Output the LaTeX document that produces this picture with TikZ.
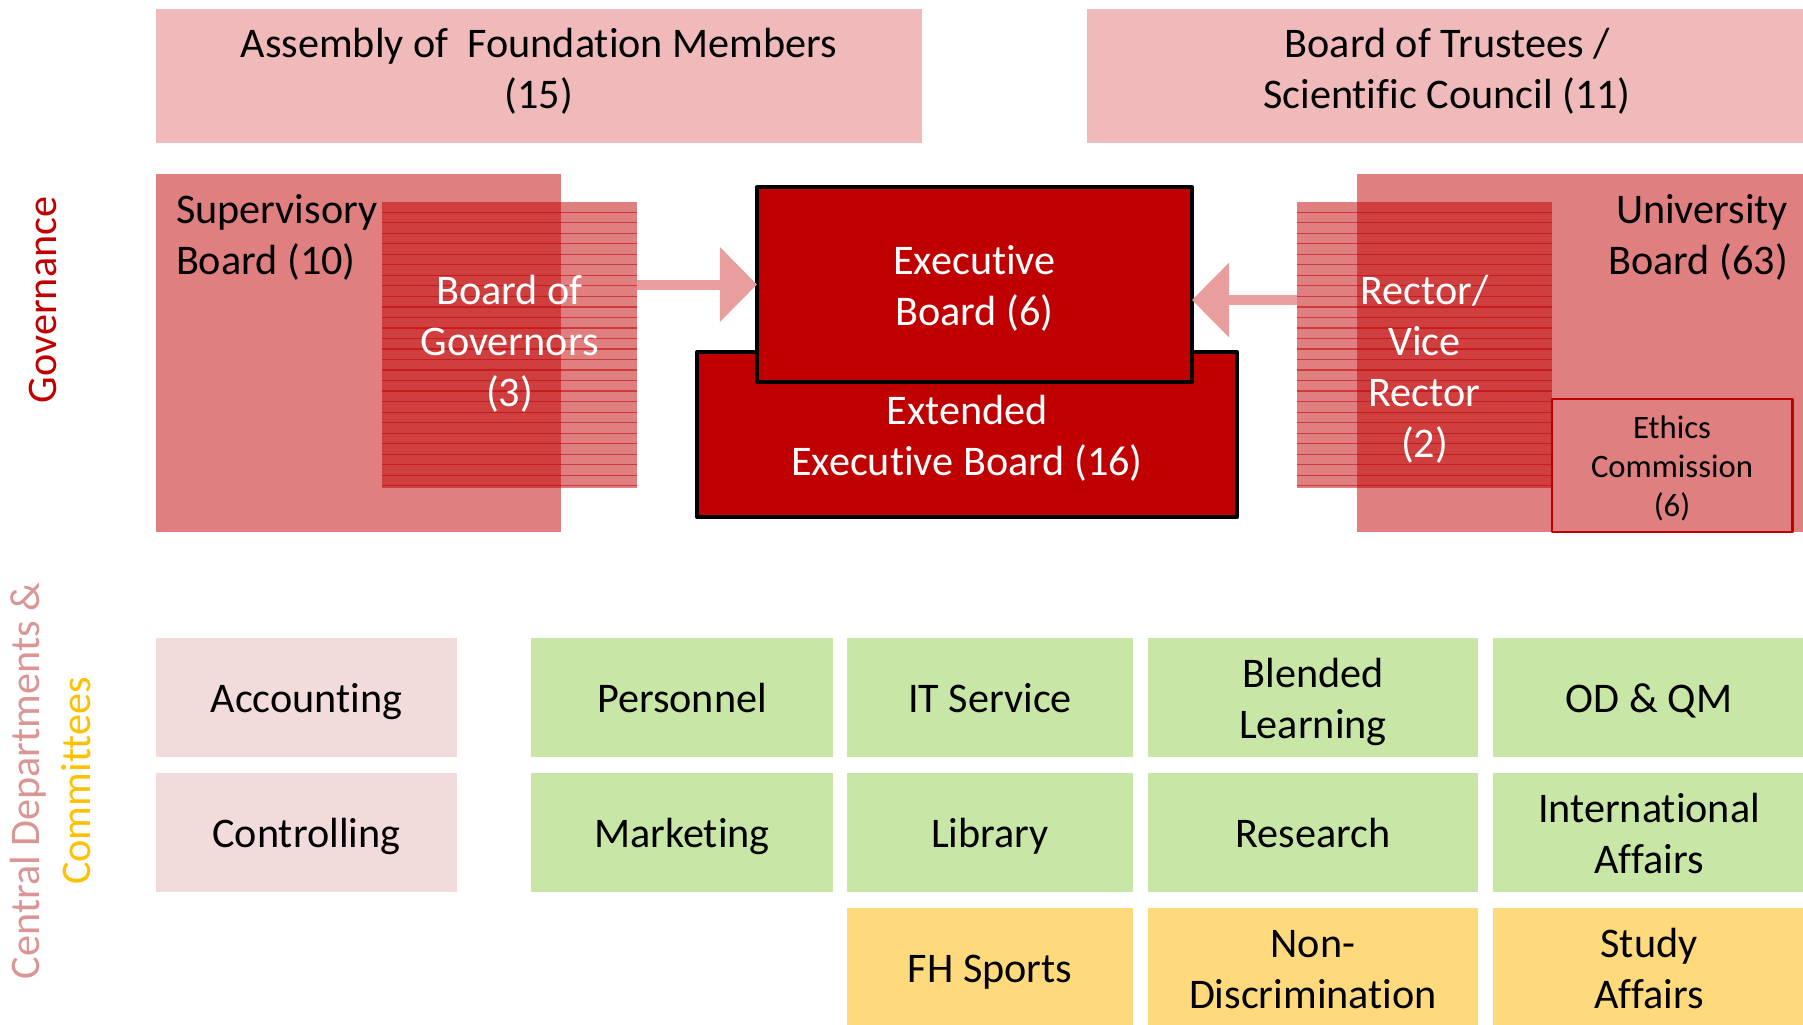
\documentclass[tikz,border=0pt]{standalone}
\usepackage{fontspec}
\setmainfont{Carlito}[Ligatures=NoCommon]
\usetikzlibrary{arrows.meta}
\definecolor{govred}{RGB}{192,0,0}
\definecolor{toppink}{RGB}{241,186,186}
\definecolor{arrowpink}{RGB}{233,158,158}
\definecolor{accpink}{RGB}{242,220,219}
\definecolor{deptgreen}{RGB}{200,230,165}
\definecolor{deptyellow}{RGB}{255,218,125}
\definecolor{centralpink}{RGB}{217,150,148}
\definecolor{commgold}{RGB}{255,192,0}
\newcommand\pptstrut{\vrule width0pt height0.97em depth0.25em}
\begin{document}
\begin{tikzpicture}[x=0.01cm, y=-0.01cm, font=\fontsize{12}{14.5}\selectfont, line join=round,
	box/.style={inner sep=0pt, outer sep=0pt, align=center, execute at begin node=\pptstrut, execute at end node=\pptstrut},
	topbox/.style={box, fill=toppink, minimum height=1.34cm},
	boardbox/.style={box, fill=govred, fill opacity=0.5, text opacity=1, minimum height=3.58cm},
	linedbox/.style={box, fill=govred, fill opacity=0.5, text opacity=1, text=white, minimum width=2.55cm, minimum height=2.86cm,
		path picture={\foreach \k in {1,...,27} \draw[govred, line width=0.3pt, draw opacity=0.55] ([yshift={-\k*0.105cm}]path picture bounding box.north west) -- ([yshift={-\k*0.105cm}]path picture bounding box.north east);}},
	execbox/.style={box, fill=govred, draw=black, line width=1pt, text=white},
	dept/.style={box, minimum height=1.19cm},
	arrowlink/.style={draw=arrowpink, line width=0.1cm, -{Triangle[width=0.75cm, length=0.37cm, line width=0pt]}}]
	\useasboundingbox (0,0) rectangle (1803,1024);
	\clip (0,0) rectangle (1803,1024);
	\node[topbox, minimum width=7.66cm] (assembly) at (539,76) {};
	\node[box] (assemblytext) at (539,68) {\pptstrut Assembly of~ Foundation Members\\(15)};
	\node[topbox, minimum width=7.20cm] (trustees) at (1447,76) {};
	\node[box] (trusteestext) at (1447,68) {\pptstrut Board of Trustees /\\Scientific Council (11)};
	\node[rotate=90, text=govred] (govlabel) at (43,300) {Governance};
	\node[rotate=90, align=center] (centrallabel) at (51,781) {\textcolor{centralpink}{Central Departments \&}\\\textcolor{commgold}{Committees}};
	\node[boardbox, minimum width=4.05cm] (superv) at (358.5,353) {};
	\node[box, anchor=west, align=left] (supervtext) at (176,234) {\pptstrut Supervisory\\Board (10)};
	\node[linedbox] (gov) at (509.5,345) {};
	\node[box, text=white] (govtext) at (509.5,340) {\pptstrut Board of\\Governors\\(3)};
	\node[boardbox, minimum width=4.53cm] (univ) at (1583.5,353) {};
	\node[box, anchor=east, align=right] (univtext) at (1788,234) {\pptstrut University\\Board (63)};
	\node[linedbox] (rector) at (1424.5,345) {};
	\node[box, text=white] (rectortext) at (1424.5,365.5) {\pptstrut Rector/\\Vice\\Rector\\(2)};
	\node[box, draw=govred, line width=0.8pt, minimum width=2.4cm, minimum height=1.33cm, font=\fontsize{9.3}{11.1}\selectfont] (ethics) at (1672,465.5) {\pptstrut Ethics\\Commission\\(6)};
	\node[execbox, minimum width=5.40cm, minimum height=1.65cm] (extexec) at (967,434.5) {\pptstrut Extended\\Executive Board (16)};
	\node[execbox, minimum width=4.35cm, minimum height=1.95cm] (exec) at (974.5,284.5) {\pptstrut Executive\\Board (6)};
	\coordinate (rarr) at (0,300);
	\draw[arrowlink] (gov.east |- exec.west) -- (exec.west);
	\draw[arrowlink] (rector.west |- rarr) -- (exec.east |- rarr);
	\node[dept, fill=accpink, minimum width=3.01cm] (acc) at (306.5,697.5) {Accounting};
	\node[dept, fill=accpink, minimum width=3.01cm] (ctrl) at (306.5,832.5) {Controlling};
	\node[dept, fill=deptgreen, minimum width=3.02cm] (pers) at (682,697.5) {Personnel};
	\node[dept, fill=deptgreen, minimum width=3.02cm] (mkt) at (682,832.5) {Marketing};
	\node[dept, fill=deptgreen, minimum width=2.86cm] (it) at (990,697.5) {IT Service};
	\node[dept, fill=deptgreen, minimum width=2.86cm] (lib) at (990,832.5) {Library};
	\node[dept, fill=deptyellow, minimum width=2.86cm] (sports) at (990,967.5) {FH Sports};
	\node[dept, fill=deptgreen, minimum width=3.30cm] (blend) at (1313,697.5) {\pptstrut Blended\\Learning};
	\node[dept, fill=deptgreen, minimum width=3.30cm] (res) at (1313,832.5) {Research};
	\node[dept, fill=deptyellow, minimum width=3.30cm] (nondis) at (1313,967.5) {\pptstrut Non-\\Discrimination};
	\node[dept, fill=deptgreen, minimum width=3.12cm] (odqm) at (1649,697.5) {OD \& QM};
	\node[dept, fill=deptgreen, minimum width=3.12cm] (intl) at (1649,832.5) {\pptstrut International\\Affairs};
	\node[dept, fill=deptyellow, minimum width=3.12cm] (study) at (1649,967.5) {\pptstrut Study\\Affairs};
\end{tikzpicture}
\end{document}
